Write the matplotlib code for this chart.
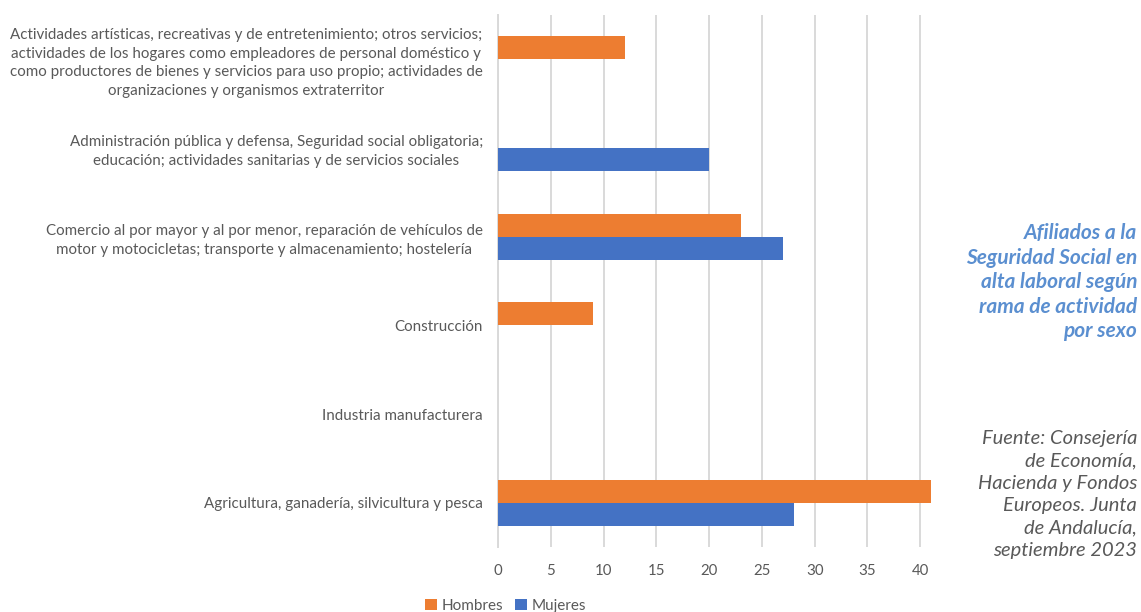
import numpy as np
import matplotlib.pyplot as plt

# Datos
categorias = [
    "Agricultura, ganadería, silvicultura y pesca",
    "Industria manufacturera",
    "Construcción",
    "Comercio al por mayor y al por menor, reparación de vehículos de\nmotor y motocicletas; transporte y almacenamiento; hostelería",
    "Administración pública y defensa, Seguridad social obligatoria;\neducación; actividades sanitarias y de servicios sociales",
    "Actividades artísticas, recreativas y de entretenimiento; otros servicios;\nactividades de los hogares como empleadores de personal doméstico y\ncomo productores de bienes y servicios para uso propio; actividades de\norganizaciones y organismos extraterritor",
]
hombres = [41, 0, 9, 23, 0, 12]
mujeres = [28, 0, 0, 27, 20, 0]
ticks_x = [0, 5, 10, 15, 20, 25, 30, 35, 40]

plt.rcParams['font.family'] = ['Lato', 'DejaVu Sans']

fig = plt.figure(figsize=(11.41, 6.12), dpi=100)
ax = fig.add_axes([0.4365, 0.1062, 0.3792, 0.8693])

y = np.arange(len(categorias))
h = 0.26
ax.barh(y + h / 2, hombres, height=h, color='#ED7D31', linewidth=0,
        label='Hombres', zorder=3)
ax.barh(y - h / 2, mujeres, height=h, color='#4472C4', linewidth=0,
        label='Mujeres', zorder=3)

ax.set_ylim(-0.5, len(categorias) - 0.5)
ax.set_xlim(0, 41)
ax.set_xticks(ticks_x)
ax.set_yticks(y)
ax.set_yticklabels(categorias, fontsize=10.9, color='#595959', linespacing=1.4)
for t in ax.get_yticklabels():
    t.set_multialignment('center')
ax.tick_params(axis='y', length=0, pad=11)
ax.tick_params(axis='x', length=0, pad=12, labelsize=10.8, labelcolor='#595959')

ax.grid(axis='x', color='#d9d9d9', linewidth=1.4, zorder=0)
for s in ['top', 'right', 'bottom']:
    ax.spines[s].set_visible(False)
ax.spines['left'].set_color('#d9d9d9')
ax.spines['left'].set_linewidth(1.4)

ax.legend(loc='center', bbox_to_anchor=(0.443, 0.01), bbox_transform=fig.transFigure,
          ncol=2, frameon=False, fontsize=11, labelcolor='#595959',
          handlelength=0.75, handleheight=0.75, handletextpad=0.3, columnspacing=0.8)

fig.text(0.9965, 0.6355,
         "Afiliados a la\nSeguridad Social en\nalta laboral según\nrama de actividad\npor sexo",
         ha='right', va='top', fontsize=15, fontweight='bold', fontstyle='italic',
         color='#5B8FD0', linespacing=1.28)
fig.text(0.9965, 0.298,
         "Fuente: Consejería\nde Economía,\nHacienda y Fondos\nEuropeos. Junta\nde Andalucía,\nseptiembre 2023",
         ha='right', va='top', fontsize=14.5, fontstyle='italic',
         color='#595959', linespacing=1.39)

fig.savefig('out.png', dpi=100)
